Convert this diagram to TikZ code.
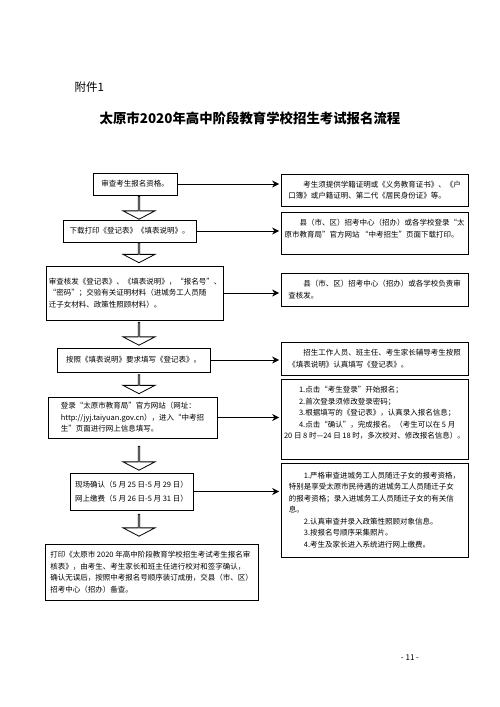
\documentclass[tikz,border=0pt]{standalone}
\usepackage{fontspec}
\setmainfont{Noto Sans CJK SC}
\usetikzlibrary{shapes.arrows,arrows.meta,shadows}
\newcommand\boxfont{\fontsize{7.5}{11.5}\selectfont}

\begin{document}
\begin{tikzpicture}[x=1pt, y=-1pt,
    leftbox/.style={draw, line width=0.9pt, inner xsep=2pt, align=left, font=\boxfont},
    rightbox/.style={draw, fill=white, line width=0.7pt, minimum width=187, inner xsep=2pt, align=left, font=\boxfont,
      drop shadow={shadow xshift=1.2pt, shadow yshift=-1.2pt, fill=black!85, opacity=1}},
    blockarrow/.style={single arrow, draw, line width=0.8pt, shape border rotate=270, inner sep=0pt,
      minimum width=32, single arrow head extend=8.5pt, single arrow tip angle=125},
    link/.style={-{Stealth[length=7pt,width=7pt]}, line width=0.6pt, shorten >=1.5pt}]
    \useasboundingbox (0,0) rectangle (500,707);

    % 标题
    \node[anchor=west, font=\fontsize{11.5}{12}\selectfont] (fujian) at (71,87) {附件1};
    \node[font=\bfseries\fontsize{13.4}{14}\selectfont] (title) at (250,118) {太原市2020年高中阶段教育学校招生考试报名流程};

    % 左侧流程
    \node[leftbox, minimum width=84, minimum height=22] (b1) at (135,184) {审查考生报名资格。};
    \node[leftbox, minimum width=133, minimum height=22] (b2) at (129.5,231) {下载打印《登记表》《填表说明》。};
    \node[leftbox, minimum width=174, minimum height=54] (b3) at (135,293) {审查核发《登记表》、《填表说明》，“报名号”、\\“密码”；交验有关证明材料（进城务工人员随\\迁子女材料、政策性照顾材料）。};
    \node[leftbox, minimum width=153, minimum height=24] (b4) at (133.5,360) {按照《填表说明》要求填写《登记表》。};
    \node[leftbox, minimum width=169, minimum height=41] (b5) at (132.5,417.5) {登录“太原市教育局”官方网站（网址：\\http://jyj.taiyuan.gov.cn），进入“中考招\\生”页面进行网上信息填写。};
    \node[leftbox, minimum width=123, minimum height=37] (b6) at (131.5,491.5) {现场确认（5 月 25 日-5 月 29 日）\\[2.5pt]网上缴费（5 月 26 日-5 月 31 日）};
    \node[leftbox, minimum width=213, minimum height=56] (b7) at (151.5,572) {打印《太原市 2020 年高中阶段教育学校招生考试考生报名审\\核表》，由考生、考生家长和班主任进行校对和签字确认，\\确认无误后，按照中考报名号顺序装订成册，交县（市、区）\\招考中心（招办）备查。};

    % 空心箭头
    \node[blockarrow, minimum height=23] (a1) at (139,207.5) {};
    \node[blockarrow, minimum height=20] (a2) at (139,252.5) {};
    \node[blockarrow, minimum height=23] (a3) at (139,333.5) {};
    \node[blockarrow, minimum height=19] (a4) at (139,384) {};
    \node[blockarrow, minimum height=24] (a5) at (139,458) {};
    \node[blockarrow, minimum height=22] (a6) at (139,525) {};

    % 右侧说明
    \node[rightbox, minimum height=32] (r1) at (374.5,190) {\hspace*{2em}考生须提供学籍证明或《义务教育证书》、《户\\口簿》或户籍证明、第二代《居民身份证》等。};
    \node[rightbox, minimum height=42] (r2) at (374.5,233) {\hspace*{2em}县（市、区）招考中心（招办）或各学校登录“太\\原市教育局”官方网站 “中考招生”页面下载打印。\\[-2pt]\mbox{}};
    \node[rightbox, minimum height=33] (r3) at (374.5,289.5) {\hspace*{2em}县（市、区）招考中心（招办）或各学校负责审\\查核发。};
    \node[rightbox, minimum height=33] (r4) at (374.5,358.5) {\hspace*{2em}招生工作人员、班主任、考生家长辅导考生按照\\《填表说明》认真填写《登记表》。};
    \node[rightbox, minimum height=80] (r5) at (374.5,419) {\hspace*{2em}1.点击“考生登录”开始报名；\\\hspace*{2em}2.首次登录须修改登录密码；\\\hspace*{2em}3.根据填写的《登记表》，认真录入报名信息；\\\hspace*{2em}4.点击“确认”，完成报名。（考生可以在 5 月\\20 日 8 时—24 日 18 时，多次校对、修改报名信息）。\\[1pt]\mbox{}};
    \node[rightbox, minimum height=94] (r6) at (374.5,510) {\hspace*{2em}1.严格审查进城务工人员随迁子女的报考资格，\\特别是享受太原市民待遇的进城务工人员随迁子女\\的报考资格；录入进城务工人员随迁子女的有关信\\息。\\\hspace*{2em}2.认真审查并录入政策性照顾对象信息。\\\hspace*{2em}3.按报名号顺序采集照片。\\\hspace*{2em}4.考生及家长进入系统进行网上缴费。};

    % 连线
    \draw[link] (b1.east) -- (b1.east -| r1.west);
    \draw[link] (b2.east) -- (b2.east -| r2.west);
    \draw[link] (b3.east) -- (b3.east -| r3.west);
    \draw[link] (b4.east) -- (b4.east -| r4.west);
    \draw[link] (b5.east) -- (b5.east -| r5.west);
    \draw[link] (b6.east) -- (b6.east -| r6.west);

    \node[font=\fontsize{8}{9}\selectfont] (page) at (410,658) {- 11 -};
\end{tikzpicture}
\end{document}
